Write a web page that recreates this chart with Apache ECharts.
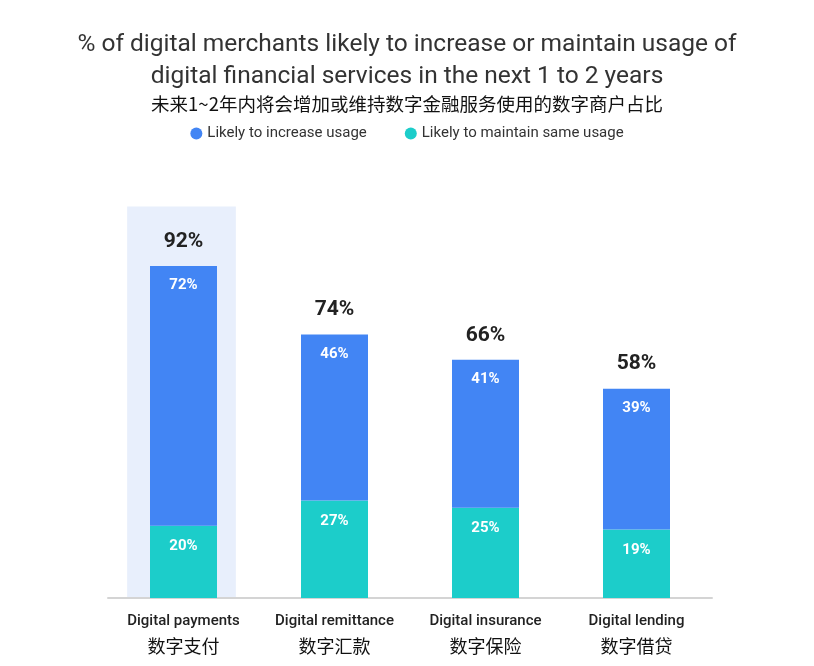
<!DOCTYPE html>
<html>
<head>
<meta charset="utf-8">
<script src="https://cdn.jsdelivr.net/npm/echarts@6/dist/echarts.min.js"></script>
<style>
  html, body { margin: 0; padding: 0; background: #fff; }
  #chart { width: 814px; height: 666px; }
</style>
</head>
<body>
<div id="chart"></div>
<script>
// categories (english / chinese)
var categoriesEn = ['Digital payments', 'Digital remittance', 'Digital insurance', 'Digital lending'];
var categoriesCn = ['数字支付', '数字汇款', '数字保险', '数字借贷'];
// series values (%)
var increaseUsage = [72, 46, 41, 39];
var maintainUsage = [20, 27, 25, 19];
var totals = [92, 74, 66, 58];
// highlighted category background height
var highlight = [[0, 108.5]];

var chart = echarts.init(document.getElementById('chart'));

var option = {
  backgroundColor: '#ffffff',
  textStyle: { fontFamily: 'Roboto, "Noto Sans CJK SC", sans-serif' },
  title: {
    text: '% of digital merchants likely to increase or maintain usage of\ndigital financial services in the next 1 to 2 years',
    subtext: '未来1~2年内将会增加或维持数字金融服务使用的数字商户占比',
    left: 'center',
    top: 24,
    itemGap: 2,
    textStyle: {
      fontSize: 24.5,
      fontWeight: 'normal',
      color: '#333333',
      lineHeight: 32,
      fontFamily: 'Roboto, sans-serif'
    },
    subtextStyle: {
      fontSize: 18.5,
      color: '#111111',
      fontFamily: '"Noto Sans CJK SC", sans-serif'
    }
  },
  legend: {
    top: 121,
    left: 'center',
    icon: 'circle',
    itemWidth: 12,
    itemHeight: 12,
    itemGap: 38,
    data: ['Likely to increase usage', 'Likely to maintain same usage'],
    textStyle: { fontSize: 15, color: '#333333', fontFamily: 'Roboto, sans-serif' }
  },
  grid: { top: 201, bottom: 68, left: 108, right: 102 },
  xAxis: {
    type: 'category',
    data: categoriesEn,
    axisLine: { lineStyle: { color: '#d4d4d4', width: 2 } },
    axisTick: { show: false },
    axisLabel: {
      interval: 0,
      margin: 12,
      formatter: function (v, i) {
        return '{en|' + v + '}\n{cn|' + categoriesCn[i] + '}';
      },
      rich: {
        en: { fontSize: 15, color: '#222222', lineHeight: 22, fontWeight: 500, fontFamily: 'Roboto, sans-serif' },
        cn: { fontSize: 18, color: '#111111', lineHeight: 28, fontFamily: '"Noto Sans CJK SC", sans-serif' }
      }
    }
  },
  yAxis: {
    type: 'value',
    min: 0,
    max: 110,
    show: false,
    splitLine: { show: false }
  },
  series: [
    {
      type: 'custom',
      silent: true,
      z: 0,
      data: highlight,
      renderItem: function (params, api) {
        var base = api.coord([api.value(0), 0]);
        var top = api.coord([api.value(0), api.value(1)]);
        var w = api.size([1, 0])[0] * 0.72;
        return {
          type: 'rect',
          shape: { x: base[0] - w / 2 - 2, y: top[1], width: w, height: base[1] - top[1] },
          style: { fill: '#e8effc' }
        };
      }
    },
    {
      name: 'Likely to maintain same usage',
      type: 'bar',
      stack: 'total',
      barWidth: 67,
      z: 2,
      data: maintainUsage,
      itemStyle: { color: '#1ccdca' },
      label: {
        show: true,
        position: 'insideTop',
        distance: 13,
        formatter: '{c}%',
        color: '#ffffff',
        fontSize: 15,
        fontWeight: 'bold'
      }
    },
    {
      name: 'Likely to increase usage',
      type: 'bar',
      stack: 'total',
      barWidth: 67,
      z: 2,
      data: increaseUsage,
      itemStyle: { color: '#4285f4' },
      label: {
        show: true,
        position: 'insideTop',
        distance: 12,
        formatter: '{c}%',
        color: '#ffffff',
        fontSize: 15,
        fontWeight: 'bold'
      }
    },
    {
      name: 'total',
      type: 'bar',
      stack: 'total',
      barWidth: 67,
      z: 2,
      data: totals.map(function () { return 0; }),
      itemStyle: { color: 'transparent' },
      label: {
        show: true,
        position: 'top',
        distance: 14,
        formatter: function (p) { return totals[p.dataIndex] + '%'; },
        color: '#222222',
        fontSize: 21,
        fontWeight: 'bold'
      }
    }
  ]
};

chart.setOption(option);
</script>
</body>
</html>
